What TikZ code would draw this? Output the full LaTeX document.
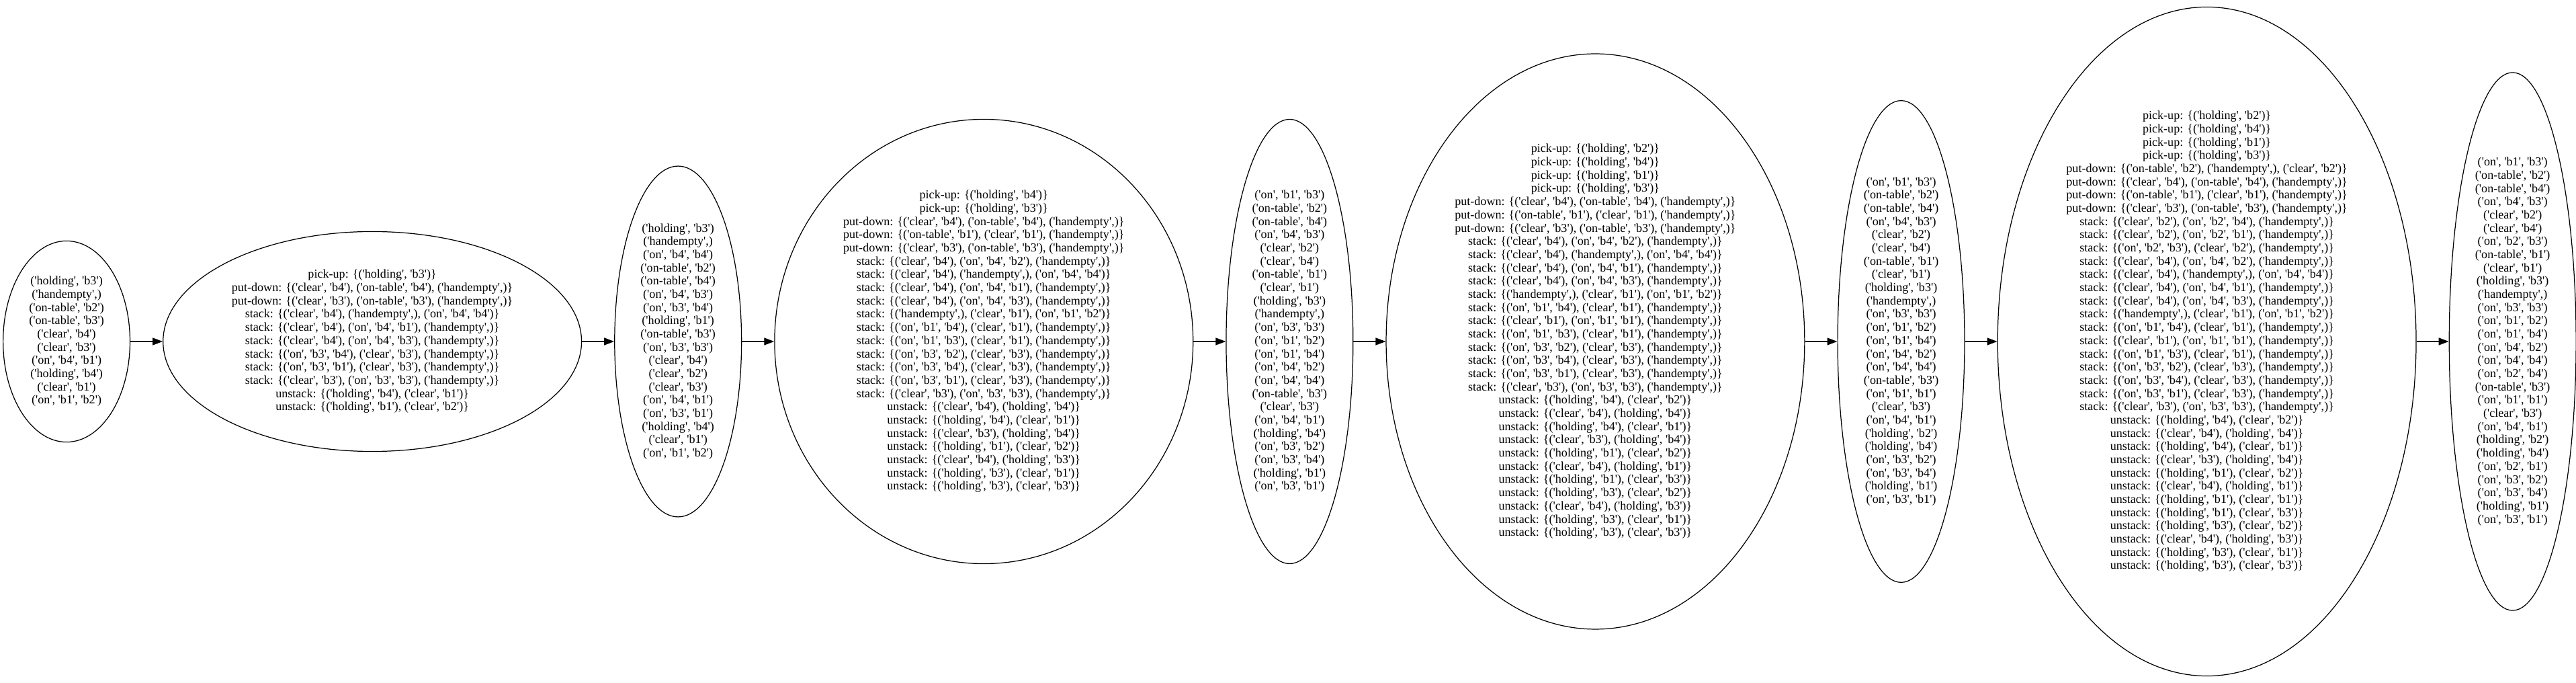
\documentclass[tikz,border=0pt]{standalone}
\usepackage{fontspec}
\setmainfont{Liberation Serif}[Ligatures=TeXOff]
\usetikzlibrary{arrows.meta,shapes.geometric,positioning}
\tikzset{
    state/.style={draw, ellipse, line width=0.7pt, align=center, inner xsep=0.22cm, inner ysep=0.18cm, font=\fontsize{10.3}{11.2}\selectfont},
    edge/.style={line width=0.7pt, -{Triangle[length=0.3cm, width=0.22cm]}}
}
\begin{document}
\begin{tikzpicture}[node distance=0.96cm]
    \useasboundingbox (0,0) rectangle (76.68,20.32);
    \node[state, anchor=west] (s1) at (0.08,10.16) {('holding', 'b3')\\('handempty',)\\('on-table', 'b2')\\('on-table', 'b3')\\('clear', 'b4')\\('clear', 'b3')\\('on', 'b4', 'b1')\\('holding', 'b4')\\('clear', 'b1')\\('on', 'b1', 'b2')};

    \node[state, right=of s1] (s2) {pick-up: \{('holding', 'b3')\}\\
put-down: \{('clear', 'b4'), ('on-table', 'b4'), ('handempty',)\}\\
put-down: \{('clear', 'b3'), ('on-table', 'b3'), ('handempty',)\}\\
stack: \{('clear', 'b4'), ('handempty',), ('on', 'b4', 'b4')\}\\
stack: \{('clear', 'b4'), ('on', 'b4', 'b1'), ('handempty',)\}\\
stack: \{('clear', 'b4'), ('on', 'b4', 'b3'), ('handempty',)\}\\
stack: \{('on', 'b3', 'b4'), ('clear', 'b3'), ('handempty',)\}\\
stack: \{('on', 'b3', 'b1'), ('clear', 'b3'), ('handempty',)\}\\
stack: \{('clear', 'b3'), ('on', 'b3', 'b3'), ('handempty',)\}\\
unstack: \{('holding', 'b4'), ('clear', 'b1')\}\\
unstack: \{('holding', 'b1'), ('clear', 'b2')\}};

    \node[state, right=of s2] (s3) {('holding', 'b3')\\('handempty',)\\('on', 'b4', 'b4')\\('on-table', 'b2')\\('on-table', 'b4')\\('on', 'b4', 'b3')\\('on', 'b3', 'b4')\\('holding', 'b1')\\('on-table', 'b3')\\('on', 'b3', 'b3')\\('clear', 'b4')\\('clear', 'b2')\\('clear', 'b3')\\('on', 'b4', 'b1')\\('on', 'b3', 'b1')\\('holding', 'b4')\\('clear', 'b1')\\('on', 'b1', 'b2')};

    \node[state, right=of s3] (s4) {pick-up: \{('holding', 'b4')\}\\
pick-up: \{('holding', 'b3')\}\\
put-down: \{('clear', 'b4'), ('on-table', 'b4'), ('handempty',)\}\\
put-down: \{('on-table', 'b1'), ('clear', 'b1'), ('handempty',)\}\\
put-down: \{('clear', 'b3'), ('on-table', 'b3'), ('handempty',)\}\\
stack: \{('clear', 'b4'), ('on', 'b4', 'b2'), ('handempty',)\}\\
stack: \{('clear', 'b4'), ('handempty',), ('on', 'b4', 'b4')\}\\
stack: \{('clear', 'b4'), ('on', 'b4', 'b1'), ('handempty',)\}\\
stack: \{('clear', 'b4'), ('on', 'b4', 'b3'), ('handempty',)\}\\
stack: \{('handempty',), ('clear', 'b1'), ('on', 'b1', 'b2')\}\\
stack: \{('on', 'b1', 'b4'), ('clear', 'b1'), ('handempty',)\}\\
stack: \{('on', 'b1', 'b3'), ('clear', 'b1'), ('handempty',)\}\\
stack: \{('on', 'b3', 'b2'), ('clear', 'b3'), ('handempty',)\}\\
stack: \{('on', 'b3', 'b4'), ('clear', 'b3'), ('handempty',)\}\\
stack: \{('on', 'b3', 'b1'), ('clear', 'b3'), ('handempty',)\}\\
stack: \{('clear', 'b3'), ('on', 'b3', 'b3'), ('handempty',)\}\\
unstack: \{('clear', 'b4'), ('holding', 'b4')\}\\
unstack: \{('holding', 'b4'), ('clear', 'b1')\}\\
unstack: \{('clear', 'b3'), ('holding', 'b4')\}\\
unstack: \{('holding', 'b1'), ('clear', 'b2')\}\\
unstack: \{('clear', 'b4'), ('holding', 'b3')\}\\
unstack: \{('holding', 'b3'), ('clear', 'b1')\}\\
unstack: \{('holding', 'b3'), ('clear', 'b3')\}};

    \node[state, right=of s4] (s5) {('on', 'b1', 'b3')\\('on-table', 'b2')\\('on-table', 'b4')\\('on', 'b4', 'b3')\\('clear', 'b2')\\('clear', 'b4')\\('on-table', 'b1')\\('clear', 'b1')\\('holding', 'b3')\\('handempty',)\\('on', 'b3', 'b3')\\('on', 'b1', 'b2')\\('on', 'b1', 'b4')\\('on', 'b4', 'b2')\\('on', 'b4', 'b4')\\('on-table', 'b3')\\('clear', 'b3')\\('on', 'b4', 'b1')\\('holding', 'b4')\\('on', 'b3', 'b2')\\('on', 'b3', 'b4')\\('holding', 'b1')\\('on', 'b3', 'b1')};

    \node[state, right=of s5] (s6) {pick-up: \{('holding', 'b2')\}\\
pick-up: \{('holding', 'b4')\}\\
pick-up: \{('holding', 'b1')\}\\
pick-up: \{('holding', 'b3')\}\\
put-down: \{('clear', 'b4'), ('on-table', 'b4'), ('handempty',)\}\\
put-down: \{('on-table', 'b1'), ('clear', 'b1'), ('handempty',)\}\\
put-down: \{('clear', 'b3'), ('on-table', 'b3'), ('handempty',)\}\\
stack: \{('clear', 'b4'), ('on', 'b4', 'b2'), ('handempty',)\}\\
stack: \{('clear', 'b4'), ('handempty',), ('on', 'b4', 'b4')\}\\
stack: \{('clear', 'b4'), ('on', 'b4', 'b1'), ('handempty',)\}\\
stack: \{('clear', 'b4'), ('on', 'b4', 'b3'), ('handempty',)\}\\
stack: \{('handempty',), ('clear', 'b1'), ('on', 'b1', 'b2')\}\\
stack: \{('on', 'b1', 'b4'), ('clear', 'b1'), ('handempty',)\}\\
stack: \{('clear', 'b1'), ('on', 'b1', 'b1'), ('handempty',)\}\\
stack: \{('on', 'b1', 'b3'), ('clear', 'b1'), ('handempty',)\}\\
stack: \{('on', 'b3', 'b2'), ('clear', 'b3'), ('handempty',)\}\\
stack: \{('on', 'b3', 'b4'), ('clear', 'b3'), ('handempty',)\}\\
stack: \{('on', 'b3', 'b1'), ('clear', 'b3'), ('handempty',)\}\\
stack: \{('clear', 'b3'), ('on', 'b3', 'b3'), ('handempty',)\}\\
unstack: \{('holding', 'b4'), ('clear', 'b2')\}\\
unstack: \{('clear', 'b4'), ('holding', 'b4')\}\\
unstack: \{('holding', 'b4'), ('clear', 'b1')\}\\
unstack: \{('clear', 'b3'), ('holding', 'b4')\}\\
unstack: \{('holding', 'b1'), ('clear', 'b2')\}\\
unstack: \{('clear', 'b4'), ('holding', 'b1')\}\\
unstack: \{('holding', 'b1'), ('clear', 'b3')\}\\
unstack: \{('holding', 'b3'), ('clear', 'b2')\}\\
unstack: \{('clear', 'b4'), ('holding', 'b3')\}\\
unstack: \{('holding', 'b3'), ('clear', 'b1')\}\\
unstack: \{('holding', 'b3'), ('clear', 'b3')\}};

    \node[state, right=of s6] (s7) {('on', 'b1', 'b3')\\('on-table', 'b2')\\('on-table', 'b4')\\('on', 'b4', 'b3')\\('clear', 'b2')\\('clear', 'b4')\\('on-table', 'b1')\\('clear', 'b1')\\('holding', 'b3')\\('handempty',)\\('on', 'b3', 'b3')\\('on', 'b1', 'b2')\\('on', 'b1', 'b4')\\('on', 'b4', 'b2')\\('on', 'b4', 'b4')\\('on-table', 'b3')\\('on', 'b1', 'b1')\\('clear', 'b3')\\('on', 'b4', 'b1')\\('holding', 'b2')\\('holding', 'b4')\\('on', 'b3', 'b2')\\('on', 'b3', 'b4')\\('holding', 'b1')\\('on', 'b3', 'b1')};

    \node[state, right=of s7] (s8) {pick-up: \{('holding', 'b2')\}\\
pick-up: \{('holding', 'b4')\}\\
pick-up: \{('holding', 'b1')\}\\
pick-up: \{('holding', 'b3')\}\\
put-down: \{('on-table', 'b2'), ('handempty',), ('clear', 'b2')\}\\
put-down: \{('clear', 'b4'), ('on-table', 'b4'), ('handempty',)\}\\
put-down: \{('on-table', 'b1'), ('clear', 'b1'), ('handempty',)\}\\
put-down: \{('clear', 'b3'), ('on-table', 'b3'), ('handempty',)\}\\
stack: \{('clear', 'b2'), ('on', 'b2', 'b4'), ('handempty',)\}\\
stack: \{('clear', 'b2'), ('on', 'b2', 'b1'), ('handempty',)\}\\
stack: \{('on', 'b2', 'b3'), ('clear', 'b2'), ('handempty',)\}\\
stack: \{('clear', 'b4'), ('on', 'b4', 'b2'), ('handempty',)\}\\
stack: \{('clear', 'b4'), ('handempty',), ('on', 'b4', 'b4')\}\\
stack: \{('clear', 'b4'), ('on', 'b4', 'b1'), ('handempty',)\}\\
stack: \{('clear', 'b4'), ('on', 'b4', 'b3'), ('handempty',)\}\\
stack: \{('handempty',), ('clear', 'b1'), ('on', 'b1', 'b2')\}\\
stack: \{('on', 'b1', 'b4'), ('clear', 'b1'), ('handempty',)\}\\
stack: \{('clear', 'b1'), ('on', 'b1', 'b1'), ('handempty',)\}\\
stack: \{('on', 'b1', 'b3'), ('clear', 'b1'), ('handempty',)\}\\
stack: \{('on', 'b3', 'b2'), ('clear', 'b3'), ('handempty',)\}\\
stack: \{('on', 'b3', 'b4'), ('clear', 'b3'), ('handempty',)\}\\
stack: \{('on', 'b3', 'b1'), ('clear', 'b3'), ('handempty',)\}\\
stack: \{('clear', 'b3'), ('on', 'b3', 'b3'), ('handempty',)\}\\
unstack: \{('holding', 'b4'), ('clear', 'b2')\}\\
unstack: \{('clear', 'b4'), ('holding', 'b4')\}\\
unstack: \{('holding', 'b4'), ('clear', 'b1')\}\\
unstack: \{('clear', 'b3'), ('holding', 'b4')\}\\
unstack: \{('holding', 'b1'), ('clear', 'b2')\}\\
unstack: \{('clear', 'b4'), ('holding', 'b1')\}\\
unstack: \{('holding', 'b1'), ('clear', 'b1')\}\\
unstack: \{('holding', 'b1'), ('clear', 'b3')\}\\
unstack: \{('holding', 'b3'), ('clear', 'b2')\}\\
unstack: \{('clear', 'b4'), ('holding', 'b3')\}\\
unstack: \{('holding', 'b3'), ('clear', 'b1')\}\\
unstack: \{('holding', 'b3'), ('clear', 'b3')\}};

    \node[state, right=of s8] (s9) {('on', 'b1', 'b3')\\('on-table', 'b2')\\('on-table', 'b4')\\('on', 'b4', 'b3')\\('clear', 'b2')\\('clear', 'b4')\\('on', 'b2', 'b3')\\('on-table', 'b1')\\('clear', 'b1')\\('holding', 'b3')\\('handempty',)\\('on', 'b3', 'b3')\\('on', 'b1', 'b2')\\('on', 'b1', 'b4')\\('on', 'b4', 'b2')\\('on', 'b4', 'b4')\\('on', 'b2', 'b4')\\('on-table', 'b3')\\('on', 'b1', 'b1')\\('clear', 'b3')\\('on', 'b4', 'b1')\\('holding', 'b2')\\('holding', 'b4')\\('on', 'b2', 'b1')\\('on', 'b3', 'b2')\\('on', 'b3', 'b4')\\('holding', 'b1')\\('on', 'b3', 'b1')};

\foreach \a/\b in {s1/s2,s2/s3,s3/s4,s4/s5,s5/s6,s6/s7,s7/s8,s8/s9}{
    \draw[edge] (\a) -- (\b);
}
\end{tikzpicture}
\end{document}
